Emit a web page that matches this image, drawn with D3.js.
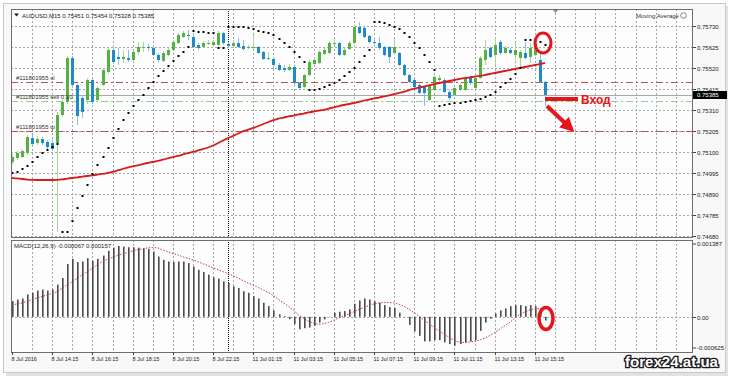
<!DOCTYPE html>
<html>
<head>
<meta charset="utf-8">
<script src="https://cdn.jsdelivr.net/npm/d3@7"></script>
<style>
  body { margin: 0; background: #fff; }
  svg text { font-family: "Liberation Sans", Arial, sans-serif; }
</style>
</head>
<body>
<svg id="chart" width="729" height="377"></svg>
<script>
// ---- data (AUDUSD M15, 8-11 Jul 2016) ----
const symbolTitle = "AUDUSD,M15  0.75451 0.75454 0.75328 0.75385";
const macdTitle = "MACD(12,26,9) -0.000067 0.000157";
const timeLabels = ["8 Jul 2016", "8 Jul 14:15", "8 Jul 16:15", "8 Jul 18:15", "8 Jul 20:15", "8 Jul 22:15",
  "11 Jul 01:15", "11 Jul 03:15", "11 Jul 05:15", "11 Jul 07:15", "11 Jul 09:15", "11 Jul 11:15",
  "11 Jul 13:15", "11 Jul 15:15"];
const barsPerLabel = 8;
const dayBreakBar = 43;   // first bar of 11 Jul
const priceTicks = [0.75730, 0.75625, 0.75520, 0.75415, 0.75310, 0.75205, 0.75100, 0.74995, 0.74890, 0.74785, 0.74680];
const macdTicks = [0.001387, 0, -0.000625];
const bidPrice = 0.75385;

// open, high, low, close
const candles = [
  [0.75050,0.75090,0.75040,0.75075],[0.75070,0.75105,0.75060,0.75095],[0.75075,0.75115,0.75070,0.75105],
  [0.75095,0.75185,0.75085,0.75175],[0.75170,0.75185,0.75130,0.75140],[0.75145,0.75180,0.75135,0.75165],
  [0.75165,0.75175,0.75135,0.75145],[0.75150,0.75160,0.75115,0.75125],[0.75145,0.75160,0.75105,0.75115],
  [0.75145,0.75300,0.74700,0.75285],[0.75285,0.75360,0.75275,0.75350],[0.75350,0.75580,0.75340,0.75570],
  [0.75570,0.75580,0.75420,0.75435],[0.75435,0.75440,0.75235,0.75280],[0.75370,0.75385,0.75270,0.75300],
  [0.75360,0.75470,0.75340,0.75460],[0.75460,0.75470,0.75340,0.75350],[0.75360,0.75430,0.75350,0.75420],
  [0.75435,0.75520,0.75430,0.75510],[0.75500,0.75620,0.75490,0.75610],[0.75610,0.75635,0.75540,0.75550],
  [0.75575,0.75620,0.75535,0.75565],[0.75565,0.75610,0.75545,0.75575],[0.75570,0.75610,0.75550,0.75560],
  [0.75560,0.75610,0.75550,0.75600],[0.75600,0.75650,0.75585,0.75625],[0.75620,0.75650,0.75600,0.75625],
  [0.75625,0.75640,0.75605,0.75620],[0.75620,0.75630,0.75580,0.75585],[0.75585,0.75595,0.75550,0.75560],
  [0.75555,0.75605,0.75550,0.75595],[0.75585,0.75620,0.75580,0.75610],[0.75610,0.75660,0.75605,0.75650],
  [0.75645,0.75695,0.75640,0.75685],[0.75675,0.75705,0.75670,0.75695],[0.75685,0.75710,0.75660,0.75680],
  [0.75675,0.75685,0.75620,0.75625],[0.75635,0.75645,0.75610,0.75620],[0.75625,0.75655,0.75620,0.75645],
  [0.75640,0.75660,0.75635,0.75645],[0.75635,0.75660,0.75625,0.75650],[0.75635,0.75705,0.75630,0.75695],
  [0.75695,0.75700,0.75635,0.75645],[0.75640,0.75650,0.75620,0.75630],[0.75630,0.75660,0.75620,0.75645],
  [0.75645,0.75670,0.75620,0.75625],[0.75630,0.75660,0.75610,0.75615],[0.75620,0.75635,0.75615,0.75625],
  [0.75620,0.75685,0.75615,0.75625],[0.75625,0.75630,0.75590,0.75595],[0.75600,0.75605,0.75560,0.75565],
  [0.75565,0.75600,0.75560,0.75570],[0.75565,0.75575,0.75505,0.75535],[0.75535,0.75545,0.75505,0.75510],
  [0.75520,0.75535,0.75500,0.75510],[0.75510,0.75540,0.75505,0.75525],[0.75525,0.75530,0.75425,0.75445],
  [0.75445,0.75450,0.75410,0.75420],[0.75425,0.75490,0.75420,0.75485],[0.75485,0.75560,0.75480,0.75550],
  [0.75540,0.75570,0.75535,0.75560],[0.75545,0.75610,0.75540,0.75600],[0.75590,0.75620,0.75585,0.75610],
  [0.75595,0.75655,0.75590,0.75645],[0.75640,0.75665,0.75635,0.75645],[0.75645,0.75650,0.75580,0.75585],
  [0.75585,0.75620,0.75580,0.75610],[0.75615,0.75655,0.75610,0.75645],[0.75645,0.75735,0.75640,0.75725],
  [0.75725,0.75750,0.75690,0.75695],[0.75720,0.75725,0.75670,0.75675],[0.75680,0.75685,0.75645,0.75650],
  [0.75650,0.75675,0.75625,0.75645],[0.75645,0.75675,0.75610,0.75620],[0.75625,0.75630,0.75580,0.75585],
  [0.75625,0.75630,0.75545,0.75575],[0.75595,0.75665,0.75585,0.75625],[0.75595,0.75600,0.75530,0.75535],
  [0.75535,0.75540,0.75480,0.75485],[0.75485,0.75490,0.75445,0.75450],[0.75460,0.75465,0.75420,0.75425],
  [0.75435,0.75440,0.75390,0.75395],[0.75425,0.75430,0.75330,0.75395],[0.75360,0.75440,0.75355,0.75435],
  [0.75410,0.75480,0.75405,0.75475],[0.75460,0.75485,0.75450,0.75470],[0.75460,0.75470,0.75395,0.75400],
  [0.75400,0.75410,0.75360,0.75370],[0.75385,0.75430,0.75380,0.75420],[0.75410,0.75445,0.75405,0.75435],
  [0.75410,0.75480,0.75405,0.75470],[0.75470,0.75475,0.75435,0.75445],[0.75420,0.75475,0.75415,0.75470],
  [0.75470,0.75580,0.75465,0.75570],[0.75560,0.75660,0.75535,0.75610],[0.75620,0.75630,0.75570,0.75575],
  [0.75585,0.75670,0.75535,0.75635],[0.75650,0.75660,0.75585,0.75595],[0.75595,0.75630,0.75590,0.75620],
  [0.75610,0.75620,0.75590,0.75595],[0.75585,0.75645,0.75560,0.75610],[0.75570,0.75610,0.75525,0.75600],
  [0.75595,0.75650,0.75565,0.75570],[0.75575,0.75645,0.75545,0.75620],[0.75585,0.75660,0.75580,0.75645],
  [0.75560,0.75595,0.75445,0.75450],[0.75451,0.75454,0.75328,0.75385]
];

const maValues = [
  0.74970,0.74968,0.74965,0.74962,0.74960,0.74960,0.74960,0.74960,0.74960,0.74960,
  0.74962,0.74968,0.74970,0.74972,0.74978,0.74980,0.74982,0.74988,0.74990,0.74995,
  0.75000,0.75008,0.75015,0.75022,0.75028,0.75032,0.75040,0.75045,0.75050,0.75055,
  0.75062,0.75068,0.75075,0.75080,0.75088,0.75095,0.75100,0.75108,0.75115,0.75122,
  0.75132,0.75145,0.75158,0.75170,0.75180,0.75192,0.75205,0.75212,0.75220,0.75230,
  0.75240,0.75250,0.75260,0.75268,0.75272,0.75278,0.75282,0.75288,0.75292,0.75298,
  0.75302,0.75308,0.75310,0.75318,0.75322,0.75330,0.75335,0.75340,0.75345,0.75350,
  0.75358,0.75362,0.75368,0.75372,0.75378,0.75382,0.75390,0.75395,0.75402,0.75410,
  0.75418,0.75422,0.75428,0.75432,0.75440,0.75445,0.75450,0.75455,0.75460,0.75465,
  0.75470,0.75472,0.75478,0.75480,0.75485,0.75490,0.75495,0.75500,0.75505,0.75510,
  0.75515,0.75520,0.75525,0.75530,0.75535,0.75540,0.75545
];

const sarValues = [
  0.74995,0.75000,0.75015,0.75030,0.75050,0.75075,0.75095,0.75110,0.75125,0.75140,
  0.74700,0.74700,0.74755,0.74820,0.74880,0.74935,0.74990,0.75035,0.75075,0.75120,
  0.75170,0.75215,0.75260,0.75295,0.75330,0.75360,0.75385,0.75420,0.75450,0.75480,
  0.75505,0.75530,0.75555,0.75580,0.75600,0.75625,0.75705,0.75700,0.75700,0.75695,
  0.75695,0.75620,0.75620,0.75725,0.75725,0.75725,0.75725,0.75720,0.75715,0.75705,
  0.75700,0.75695,0.75685,0.75665,0.75645,0.75625,0.75600,0.75575,0.75550,0.75410,
  0.75410,0.75415,0.75425,0.75435,0.75445,0.75460,0.75480,0.75500,0.75520,0.75550,
  0.75580,0.75610,0.75750,0.75750,0.75745,0.75735,0.75725,0.75715,0.75695,0.75675,
  0.75645,0.75620,0.75585,0.75550,0.75510,0.75330,0.75335,0.75340,0.75345,0.75345,
  0.75350,0.75355,0.75360,0.75365,0.75375,0.75385,0.75400,0.75425,0.75445,0.75465,
  0.75490,0.75520,0.75660,0.75660,0.75655,0.75650,0.75635
];

const macdHist = [
  0.000286,0.000317,0.000335,0.000408,0.000439,0.000480,0.000499,0.000480,0.000499,0.000589,
  0.000711,0.000965,0.001061,0.001001,0.001012,0.001073,0.001024,0.001061,0.001120,0.001206,
  0.001265,0.001296,0.001284,0.001273,0.001273,0.001265,0.001255,0.001242,0.001193,0.001102,
  0.001042,0.001012,0.001001,0.001012,0.001012,0.000983,0.000921,0.000861,0.000819,0.000771,
  0.000722,0.000698,0.000649,0.000620,0.000558,0.000529,0.000468,0.000439,0.000377,0.000335,
  0.000257,0.000196,0.000118,0.000045,0.000015,-0.000045,-0.000136,-0.000227,-0.000208,-0.000196,
  -0.000167,-0.000105,-0.000045,-0.000004,0.000076,0.000094,0.000105,0.000136,0.000239,0.000299,
  0.000335,0.000317,0.000286,0.000257,0.000214,0.000178,0.000167,0.000076,-0.000004,-0.000149,
  -0.000268,-0.000348,-0.000450,-0.000450,-0.000426,-0.000426,-0.000468,-0.000499,-0.000529,-0.000499,
  -0.000468,-0.000450,-0.000426,-0.000257,-0.000105,-0.000036,0.000058,0.000118,0.000154,0.000196,
  0.000214,0.000214,0.000196,0.000214,0.000196,0.000080,-0.000067
];

const macdSignal = [
  0.000214,0.000236,0.000254,0.000281,0.000317,0.000344,0.000372,0.000399,0.000426,0.000462,
  0.000526,0.000589,0.000644,0.000707,0.000771,0.000825,0.000888,0.000952,0.001015,0.001052,
  0.001088,0.001124,0.001151,0.001178,0.001206,0.001224,0.001242,0.001260,0.001269,0.001260,
  0.001224,0.001188,0.001160,0.001133,0.001097,0.001070,0.001042,0.001006,0.000970,0.000934,
  0.000897,0.000861,0.000825,0.000789,0.000752,0.000707,0.000662,0.000616,0.000580,0.000535,
  0.000490,0.000444,0.000390,0.000317,0.000254,0.000190,0.000118,0.000036,-0.000027,-0.000082,
  -0.000118,-0.000136,-0.000127,-0.000100,-0.000063,-0.000018,0.000018,0.000054,0.000091,0.000136,
  0.000172,0.000208,0.000236,0.000254,0.000263,0.000263,0.000254,0.000227,0.000190,0.000136,
  0.000073,0.000009,-0.000063,-0.000127,-0.000199,-0.000263,-0.000326,-0.000381,-0.000435,-0.000462,
  -0.000471,-0.000462,-0.000444,-0.000426,-0.000390,-0.000344,-0.000290,-0.000227,-0.000163,-0.000100,
  -0.000027,0.000045,0.000091,0.000127,0.000145,0.000152,0.000157
];

const orderLines = [
  { label: "#111801955 sl", price: 0.75450, color: "#c0504d" },
  { label: "#111801955 sell 0.10", price: 0.75355, color: "#8fd08a" },
  { label: "#111801955 tp", price: 0.75205, color: "#c0504d" }
];

// ---- layout ----
const svg = d3.select("#chart");
const main = { left: 11, right: 692, top: 9, bottom: 237 };
const sub = { top: 240, bottom: 352 };
const lastBar = candles.length - 1;

const x = d3.scaleLinear().domain([0, lastBar]).range([12, 545]);
const y = d3.scaleLinear().domain([0.74680, 0.75730]).range([236, 26]);
const ym = d3.scaleLinear().domain([-0.000625, 0.001387]).range([351, 241]);
const px = i => Math.round(x(i));

// window frame with shadow
svg.append("rect").attr("x", 6).attr("y", 6).attr("width", 722).attr("height", 370).attr("fill", "#e2e2e2");
svg.append("rect").attr("x", 3.5).attr("y", 3.5).attr("width", 722).attr("height", 369)
  .attr("fill", "#f8f8f8").attr("stroke", "#c9c9c9");

// panels
[[main.top, main.bottom], [sub.top, sub.bottom]].forEach(([t, b]) => {
  svg.append("rect").attr("x", main.left + 0.5).attr("y", t + 0.5)
    .attr("width", main.right - main.left).attr("height", b - t)
    .attr("fill", "#fdfdfd").attr("stroke", "#6e6e6e");
});

svg.append("defs").call(d => {
  d.append("clipPath").attr("id", "clipMain").append("rect")
    .attr("x", main.left + 1).attr("y", main.top + 1)
    .attr("width", main.right - main.left - 1).attr("height", main.bottom - main.top - 1);
  d.append("clipPath").attr("id", "clipSub").append("rect")
    .attr("x", main.left + 1).attr("y", sub.top + 1)
    .attr("width", main.right - main.left - 1).attr("height", sub.bottom - sub.top - 1);
  d.append("marker").attr("id", "arrowHead").attr("viewBox", "0 0 10 10")
    .attr("refX", 2).attr("refY", 5).attr("markerWidth", 3.6).attr("markerHeight", 3.6)
    .attr("orient", "auto").append("path").attr("d", "M0,0L10,5L0,10Z").attr("fill", "#e8141b");
});

const gMain = svg.append("g").attr("clip-path", "url(#clipMain)");
const gSub = svg.append("g").attr("clip-path", "url(#clipSub)");

// vertical grid every 4 bars (also into the shifted empty area)
const gridBars = d3.range(4, 136, 4);
[[gMain, main.top, main.bottom], [gSub, sub.top, sub.bottom]].forEach(([g, t, b]) => {
  g.selectAll(null).data(gridBars).enter().append("line")
    .attr("x1", d => px(d) + 0.5).attr("x2", d => px(d) + 0.5)
    .attr("y1", t).attr("y2", b)
    .attr("stroke", "#a6a6a6").attr("stroke-dasharray", "2,2");
  g.append("line").attr("x1", px(dayBreakBar) + 0.5).attr("x2", px(dayBreakBar) + 0.5)
    .attr("y1", t).attr("y2", b).attr("stroke", "#111").attr("stroke-dasharray", "1,1");
});

// horizontal grid on price ticks
gMain.selectAll(null).data(priceTicks).enter().append("line")
  .attr("x1", main.left).attr("x2", main.right)
  .attr("y1", d => Math.round(y(d)) + 0.5).attr("y2", d => Math.round(y(d)) + 0.5)
  .attr("stroke", "#a6a6a6").attr("stroke-dasharray", "2,2");
gSub.append("line").attr("x1", main.left).attr("x2", main.right)
  .attr("y1", Math.round(ym(0)) + 0.5).attr("y2", Math.round(ym(0)) + 0.5)
  .attr("stroke", "#a6a6a6").attr("stroke-dasharray", "2,2");

// order lines and bid line
gMain.selectAll(null).data(orderLines).enter().append("line")
  .attr("x1", main.left).attr("x2", main.right)
  .attr("y1", d => Math.round(y(d.price)) + 0.5).attr("y2", d => Math.round(y(d.price)) + 0.5)
  .attr("stroke", d => d.color).attr("stroke-width", 1.2).attr("stroke-dasharray", "7,3,2,3");
gMain.append("line").attr("x1", main.left).attr("x2", main.right)
  .attr("y1", Math.round(y(bidPrice)) + 0.5).attr("y2", Math.round(y(bidPrice)) + 0.5)
  .attr("stroke", "#a9a9a9");
svg.selectAll(null).data(orderLines).enter().append("text")
  .attr("x", 16).attr("y", d => y(d.price) - 2)
  .attr("font-size", 6).attr("fill", "#333").text(d => d.label);

// candles
const bull = "#55b146", bear = "#1d8bc6";
const cg = gMain.selectAll(null).data(candles).enter().append("g");
cg.append("line")
  .attr("x1", (d, i) => px(i) + 0.5).attr("x2", (d, i) => px(i) + 0.5)
  .attr("y1", d => y(d[1])).attr("y2", d => y(d[2]))
  .attr("stroke", d => d[3] >= d[0] ? "#a5d99b" : "#86c2e3");
cg.append("rect")
  .attr("x", (d, i) => px(i) - 1).attr("width", 3)
  .attr("y", d => y(Math.max(d[0], d[3])))
  .attr("height", d => Math.max(1, Math.abs(y(d[0]) - y(d[3]))))
  .attr("fill", d => d[3] >= d[0] ? bull : bear);

// moving average
gMain.append("path").datum(maValues)
  .attr("d", d3.line().x((d, i) => x(i)).y(d => y(d)).curve(d3.curveBasis))
  .attr("fill", "none").attr("stroke", "#d61d1d").attr("stroke-width", 1.8);

// parabolic SAR
gMain.selectAll(null).data(sarValues).enter().append("rect")
  .attr("x", (d, i) => px(i) - 0.5).attr("y", d => Math.round(y(d)) - 1)
  .attr("width", 2).attr("height", 2).attr("fill", "#000");

// MACD histogram + signal
gSub.selectAll(null).data(macdHist).enter().append("rect")
  .attr("x", (d, i) => px(i)).attr("width", 1.6)
  .attr("y", d => Math.min(ym(d), ym(0)))
  .attr("height", d => Math.abs(ym(d) - ym(0)))
  .attr("fill", "#4a4a4a");
gSub.append("path").datum(macdSignal)
  .attr("d", d3.line().x((d, i) => x(i)).y(d => ym(d)))
  .attr("fill", "none").attr("stroke", "#b8403d").attr("stroke-width", 1).attr("stroke-dasharray", "1.5,1.5");

// titles
svg.append("path").attr("d", "M14,13.5h5l-2.5,3z").attr("fill", "#222");
svg.append("text").attr("x", 22).attr("y", 17.5).attr("font-size", 6).attr("fill", "#222").text(symbolTitle);
svg.append("text").attr("x", 14).attr("y", 248).attr("font-size", 6).attr("fill", "#222").text(macdTitle);
svg.append("text").attr("x", 636).attr("y", 17.5).attr("font-size", 6).attr("fill", "#333").text("Moving Average");
svg.append("circle").attr("cx", 683.5).attr("cy", 15.5).attr("r", 2.8).attr("fill", "none").attr("stroke", "#555").attr("stroke-width", 0.7);
svg.append("path").attr("d", "M553,10h5l-2.5,3z").attr("fill", "#8a8a8a");

// price axis
const axisX = main.right + 1;
svg.selectAll(null).data(priceTicks).enter().append("g").each(function(d) {
  const g = d3.select(this), yy = Math.round(y(d)) + 0.5;
  g.append("line").attr("x1", axisX).attr("x2", axisX + 3).attr("y1", yy).attr("y2", yy).attr("stroke", "#444");
  g.append("text").attr("x", axisX + 4).attr("y", yy + 2.2).attr("font-size", 6).attr("fill", "#222").text(d.toFixed(5));
});
const bidY = Math.round(y(bidPrice));
svg.append("rect").attr("x", axisX).attr("y", bidY - 4).attr("width", 34).attr("height", 8).attr("fill", "#000");
svg.append("text").attr("x", axisX + 4).attr("y", bidY + 2.2).attr("font-size", 6).attr("fill", "#fff").text(bidPrice.toFixed(5));

// MACD axis
svg.selectAll(null).data(macdTicks).enter().append("g").each(function(d) {
  const g = d3.select(this);
  const yy = d === 0 ? Math.round(ym(0)) + 0.5 : (d > 0 ? sub.top + 4 : sub.bottom - 4);
  g.append("line").attr("x1", axisX).attr("x2", axisX + 3).attr("y1", yy).attr("y2", yy).attr("stroke", "#444");
  g.append("text").attr("x", axisX + 4).attr("y", yy + 2.2).attr("font-size", 6).attr("fill", "#222")
    .text(d === 0 ? "0.00" : d.toFixed(6));
});

// time axis
svg.selectAll(null).data(timeLabels).enter().append("g").each(function(d, k) {
  const g = d3.select(this), xx = px(k * barsPerLabel) + 0.5;
  g.append("line").attr("x1", xx).attr("x2", xx).attr("y1", sub.bottom).attr("y2", sub.bottom + 3).attr("stroke", "#444");
  g.append("text").attr("x", xx - 1).attr("y", 360.5).attr("font-size", 5.5).attr("fill", "#222").text(d);
});

// annotations: SAR flip, entry, MACD cross
const entryY = y(0.75365);
svg.append("ellipse").attr("cx", x(lastBar - 0.4)).attr("cy", y(0.75645)).attr("rx", 8).attr("ry", 10)
  .attr("fill", "none").attr("stroke", "#e8141b").attr("stroke-width", 3);
svg.append("ellipse").attr("cx", x(lastBar) + 1).attr("cy", ym(-0.00003)).attr("rx", 7).attr("ry", 11)
  .attr("fill", "none").attr("stroke", "#e8141b").attr("stroke-width", 3.5);
svg.append("rect").attr("x", x(lastBar)).attr("y", entryY - 2).attr("width", 33).attr("height", 4).attr("fill", "#e8141b");
svg.append("text").attr("x", x(lastBar) + 36).attr("y", entryY + 4.5).attr("font-size", 12).attr("font-weight", "bold")
  .attr("fill", "#e8141b").text("Вход");
svg.append("line").attr("x1", x(lastBar) + 2).attr("y1", y(0.75330))
  .attr("x2", x(lastBar) + 21).attr("y2", y(0.75240))
  .attr("stroke", "#e8141b").attr("stroke-width", 4).attr("marker-end", "url(#arrowHead)");

// watermark
svg.append("text").attr("x", 625).attr("y", 367).attr("font-size", 14).attr("font-weight", "bold")
  .attr("textLength", 93).attr("lengthAdjust", "spacingAndGlyphs")
  .attr("fill", "#fff").attr("stroke", "#1a1a1a").attr("stroke-width", 2.6).attr("paint-order", "stroke")
  .text("forex24.at.ua");
</script>
</body>
</html>
